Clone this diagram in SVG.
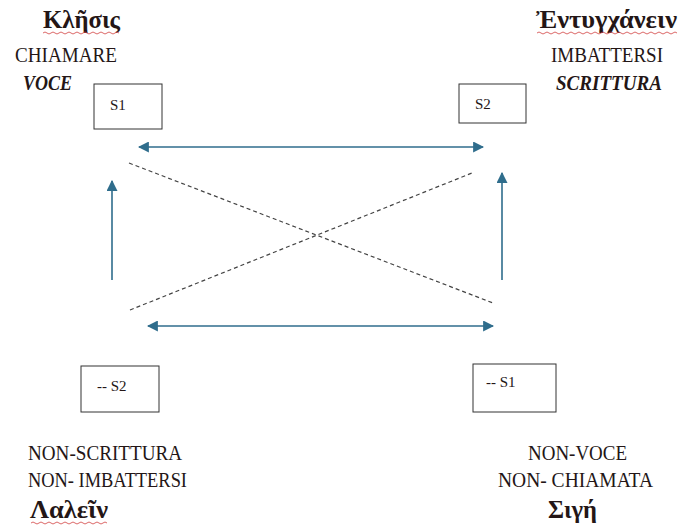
<svg xmlns="http://www.w3.org/2000/svg" width="678" height="531" viewBox="0 0 678 531">
<defs>
<style>
.t{font-family:"Liberation Serif","DejaVu Serif",serif;fill:#241616;}
.g{font-size:25px;font-weight:bold;}
.l{font-size:20px;}
.bi{font-weight:bold;font-style:italic;}
.s{font-size:15px;}
.box{fill:#fff;stroke:#333;stroke-width:1;}
.arr{stroke:#2f6d8c;stroke-width:1.6;fill:none;}
.dash{stroke:#444;stroke-width:1.2;stroke-dasharray:4 3;fill:none;}
.sq{stroke:#d24040;stroke-width:0.8;fill:none;}
</style>
<marker id="ah" viewBox="0 0 10 10" refX="9" refY="5" markerWidth="11" markerHeight="11" markerUnits="userSpaceOnUse" orient="auto-start-reverse">
<path d="M0,0 L10,5 L0,10 z" fill="#2f6d8c"/>
</marker>
</defs>
<rect width="678" height="531" fill="#fff"/>

<g id="connectors">
<line class="arr" x1="139" y1="147" x2="483" y2="147" marker-start="url(#ah)" marker-end="url(#ah)"/>
<line class="arr" x1="148" y1="326" x2="493" y2="326" marker-start="url(#ah)" marker-end="url(#ah)"/>
<line class="arr" x1="112" y1="280" x2="112" y2="181" marker-end="url(#ah)"/>
<line class="arr" x1="502" y1="280" x2="502" y2="173" marker-end="url(#ah)"/>
<line class="dash" x1="129" y1="163" x2="493" y2="303"/>
<line class="dash" x1="130" y1="310" x2="472" y2="173"/>
</g>

<g id="node-s1">
<text class="t g" x="43" y="28" textLength="77" lengthAdjust="spacingAndGlyphs">Κλῆσις</text>
<path class="sq" d="M43,33 q2,-2 4,0 t4,0 t4,0 t4,0 t4,0 t4,0 t4,0 t4,0 t4,0 t4,0 t4,0 t4,0 t4,0 t4,0 t4,0 t4,0 t4,0 t4,0 t4,0"/>
<text class="t l" x="15" y="62" textLength="102" lengthAdjust="spacingAndGlyphs">CHIAMARE</text>
<text class="t l bi" x="23" y="90" textLength="49" lengthAdjust="spacingAndGlyphs">VOCE</text>
<rect class="box" x="94" y="84" width="68" height="45"/>
<text class="t s" x="110" y="110">S1</text>
</g>

<g id="node-s2">
<text class="t g" x="536" y="28" textLength="141" lengthAdjust="spacingAndGlyphs">Ἐντυγχάνειν</text>
<path class="sq" d="M537,33 q2,-2 4,0 t4,0 t4,0 t4,0 t4,0 t4,0 t4,0 t4,0 t4,0 t4,0 t4,0 t4,0 t4,0 t4,0 t4,0 t4,0 t4,0 t4,0 t4,0 t4,0 t4,0 t4,0 t4,0 t4,0 t4,0 t4,0 t4,0 t4,0 t4,0 t4,0 t4,0 t4,0 t4,0 t4,0 t4,0"/>
<text class="t l" x="551" y="62" textLength="112" lengthAdjust="spacingAndGlyphs">IMBATTERSI</text>
<text class="t l bi" x="556" y="90" textLength="106" lengthAdjust="spacingAndGlyphs">SCRITTURA</text>
<rect class="box" x="459" y="84" width="67" height="39"/>
<text class="t s" x="475" y="109">S2</text>
</g>

<g id="node-not-s2">
<rect class="box" x="81" y="366" width="78" height="46"/>
<text class="t s" x="97" y="391">-- S2</text>
<text class="t l" x="28" y="460" textLength="154" lengthAdjust="spacingAndGlyphs">NON-SCRITTURA</text>
<text class="t l" x="28" y="487" textLength="159" lengthAdjust="spacingAndGlyphs">NON- IMBATTERSI</text>
<text class="t g" x="30" y="518" textLength="78" lengthAdjust="spacingAndGlyphs">Λαλεῖν</text>
<path class="sq" d="M31,523 q2,-2 4,0 t4,0 t4,0 t4,0 t4,0 t4,0 t4,0 t4,0 t4,0 t4,0 t4,0 t4,0 t4,0 t4,0 t4,0 t4,0 t4,0 t4,0 t4,0"/>
</g>

<g id="node-not-s1">
<rect class="box" x="473" y="364" width="83" height="48"/>
<text class="t s" x="486" y="387">-- S1</text>
<text class="t l" x="528" y="460" textLength="99" lengthAdjust="spacingAndGlyphs">NON-VOCE</text>
<text class="t l" x="498" y="487" textLength="155" lengthAdjust="spacingAndGlyphs">NON- CHIAMATA</text>
<text class="t g" x="548" y="518" textLength="49" lengthAdjust="spacingAndGlyphs">Σιγή</text>
</g>
</svg>
